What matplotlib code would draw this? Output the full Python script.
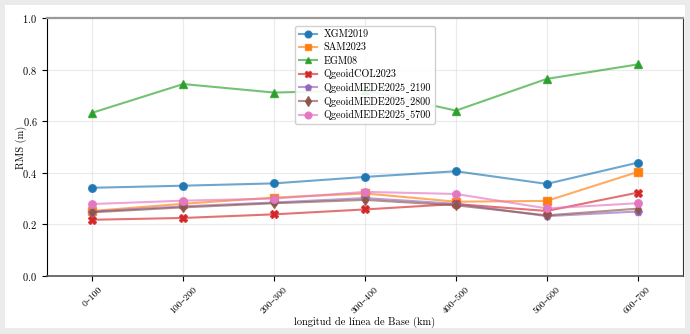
import matplotlib
matplotlib.use("Agg")
import matplotlib.pyplot as plt
from matplotlib.colors import to_rgba
from matplotlib.patches import Rectangle

plt.rcParams['font.family'] = ['cmr10', 'DejaVu Serif']
plt.rcParams['axes.formatter.use_mathtext'] = True

# Datos: RMS por rango de longitud de línea base
rangos = ['0–100', '100–200', '200–300', '300–400', '400–500', '500–600', '600–700']
modelos = ['XGM2019', 'SAM2023', 'EGM08', 'QgeoidCOL2023',
           'QgeoidMEDE2025_2190', 'QgeoidMEDE2025_2800', 'QgeoidMEDE2025_5700']
xgm2019 = [0.342, 0.350, 0.359, 0.384, 0.406, 0.357, 0.439]
sam2023 = [0.252, 0.280, 0.304, 0.320, 0.288, 0.291, 0.403]
egm08 = [0.633, 0.744, 0.711, 0.720, 0.641, 0.764, 0.820]
col2023 = [0.218, 0.225, 0.239, 0.258, 0.279, 0.252, 0.323]
mede2190 = [0.250, 0.270, 0.285, 0.302, 0.280, 0.232, 0.250]
mede2800 = [0.247, 0.266, 0.282, 0.295, 0.274, 0.235, 0.261]
mede5700 = [0.279, 0.292, 0.300, 0.326, 0.318, 0.262, 0.282]

series = [xgm2019, sam2023, egm08, col2023, mede2190, mede2800, mede5700]
colores = ['#1f77b4', '#ff7f0e', '#2ca02c', '#d62728', '#9467bd', '#8c564b', '#e377c2']
marcadores = ['o', 's', '^', 'X', 'p', 'd', 'o']

fig = plt.figure(figsize=(6.9, 3.34), dpi=100, facecolor='#ebebeb')
# panel blanco detrás del gráfico
fig.patches.append(Rectangle((5 / 690, 1 - 328 / 334), 680 / 690, 323 / 334,
                             transform=fig.transFigure, facecolor='white',
                             edgecolor='none', zorder=-10))
ax = fig.add_axes([47 / 690, 1 - 276 / 334, 636 / 690, 258 / 334])
ax.set_facecolor('white')

x = list(range(len(rangos)))
for nombre, vals, c, m in zip(modelos, series, colores, marcadores):
    # cmr10 dibuja '_' como un acento; se usa un macrón bajo de DejaVu Serif
    etiqueta = nombre.replace('_', '\u02cd')
    ax.plot(x, vals, color=to_rgba(c, 0.65), marker=m, markersize=5.5,
            markerfacecolor=c, markeredgecolor=to_rgba(c, 0.8), linewidth=1.5,
            label=etiqueta)

ax.set_xlim(-0.5, 6.5)
ax.set_ylim(0, 1.0)
ax.set_yticks([0.0, 0.2, 0.4, 0.6, 0.8, 1.0])
ax.set_xticks(x)
ax.set_xticklabels(rangos, rotation=45, fontsize=7)
ax.tick_params(axis='y', labelsize=7.5)
ax.grid(True, color='#dddddd', linewidth=0.8, alpha=0.6)
ax.set_axisbelow(True)

ax.spines['top'].set_color('#9a9a9a')
ax.spines['top'].set_linewidth(1.6)
ax.spines['bottom'].set_color('#555555')
ax.spines['bottom'].set_linewidth(1.2)
ax.spines['left'].set_color('black')
ax.spines['right'].set_color('#333333')

ax.set_xlabel('longitud de línea de Base (km)', fontsize=7.5, labelpad=1)
ax.set_ylabel('RMS (m)', fontsize=7.5)
ax.yaxis.set_label_coords(-0.032, 0.5)
ax.legend(loc='upper center', bbox_to_anchor=(0.5, 0.99), fontsize=7.3,
          framealpha=0.9, borderpad=0.4, labelspacing=0.36, handlelength=1.8,
          handletextpad=0.6, markerscale=0.9)

fig.savefig('out.png', dpi=100, facecolor=fig.get_facecolor())
